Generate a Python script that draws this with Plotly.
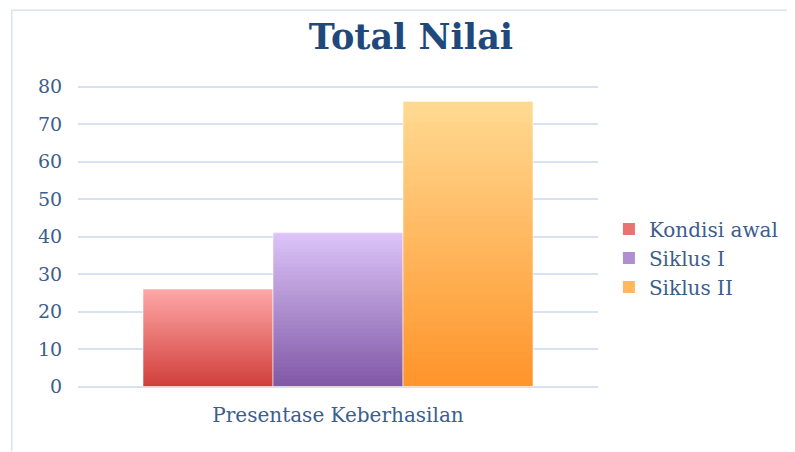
import plotly.graph_objects as go

categories = ["Presentase Keberhasilan"]
series_names = ["Kondisi awal", "Siklus I", "Siklus II"]
series_values = [26, 41, 76]
y_ticks = [0, 10, 20, 30, 40, 50, 60, 70, 80]

# gradient colours (bottom, top) per series
grad_bottom = [(208, 62, 58), (128, 88, 166), (255, 148, 42)]
grad_top = [(255, 168, 168), (220, 196, 248), (255, 218, 146)]

N = 40
fig = go.Figure()

def mix(c1, c2, t):
    return "rgb(%d,%d,%d)" % tuple(round(a + (b - a) * t) for a, b in zip(c1, c2))

for k, (name, val) in enumerate(zip(series_names, series_values)):
    step = val / N
    for i in range(N):
        t = (i + 0.5) / N
        fig.add_trace(go.Bar(
            x=categories, y=[min(step * 2.5, val - step * i)], base=[step * i],
            offsetgroup=str(k), name=name, legendgroup=name,
            showlegend=(i == N // 2),
            marker=dict(color=mix(grad_bottom[k], grad_top[k], t), line=dict(width=0)),
            hoverinfo="skip",
        ))
    fig.add_trace(go.Bar(
        x=categories, y=[val], offsetgroup=str(k), name=name, legendgroup=name,
        showlegend=False,
        marker=dict(color="rgba(0,0,0,0)", line=dict(color="rgba(255,255,255,0.55)", width=1)),
    ))

W, H = 787, 444
L, T, PW, PH = 70, 76.5, 522, 304

fig.update_layout(
    width=W, height=H,
    margin=dict(l=L, r=W - L - PW, t=T, b=H - T - PH),
    paper_bgcolor="white", plot_bgcolor="white",
    barmode="group", bargap=0.25, bargroupgap=0,
    font=dict(family="DejaVu Serif, serif", color="#3B5E8C", size=19),
    title=dict(text="<b>Total Nilai</b>", x=403 / W, xanchor="center", y=1 - 29 / H,
               yref="container", yanchor="middle",
               font=dict(family="DejaVu Serif, serif", size=35, color="#1F497D")),
    legend=dict(x=1.021, xanchor="left", y=(T + PH - 250) / PH, yanchor="middle",
                font=dict(size=20, color="#3B5E8C"), itemwidth=30,
                tracegroupgap=0, bgcolor="rgba(0,0,0,0)"),
    xaxis=dict(showgrid=False, showline=False, zeroline=False,
               ticks="outside", ticklen=9, tickcolor="rgba(0,0,0,0)",
               tickfont=dict(size=20)),
    yaxis=dict(range=[-0.4, 80.4], tickvals=y_ticks, showgrid=True,
               gridcolor="#D6E2F2", gridwidth=1.8, zeroline=False, showline=False,
               ticks="outside", ticklen=11, tickcolor="rgba(0,0,0,0)",
               tickfont=dict(size=19)),
    shapes=[
        dict(type="line", xref="paper", yref="paper", x0=(3 - L) / PW, x1=(W - L) / PW,
             y0=(T + PH - 1.5) / PH, y1=(T + PH - 1.5) / PH, line=dict(color="#D9E3F0", width=1.5)),
        dict(type="line", xref="paper", yref="paper", x0=(3.5 - L) / PW, x1=(3.5 - L) / PW,
             y0=(T + PH - 1.5) / PH, y1=(T + PH - H) / PH, line=dict(color="#D9E3F0", width=1.5)),
    ],
)

fig.write_html("out.html")
